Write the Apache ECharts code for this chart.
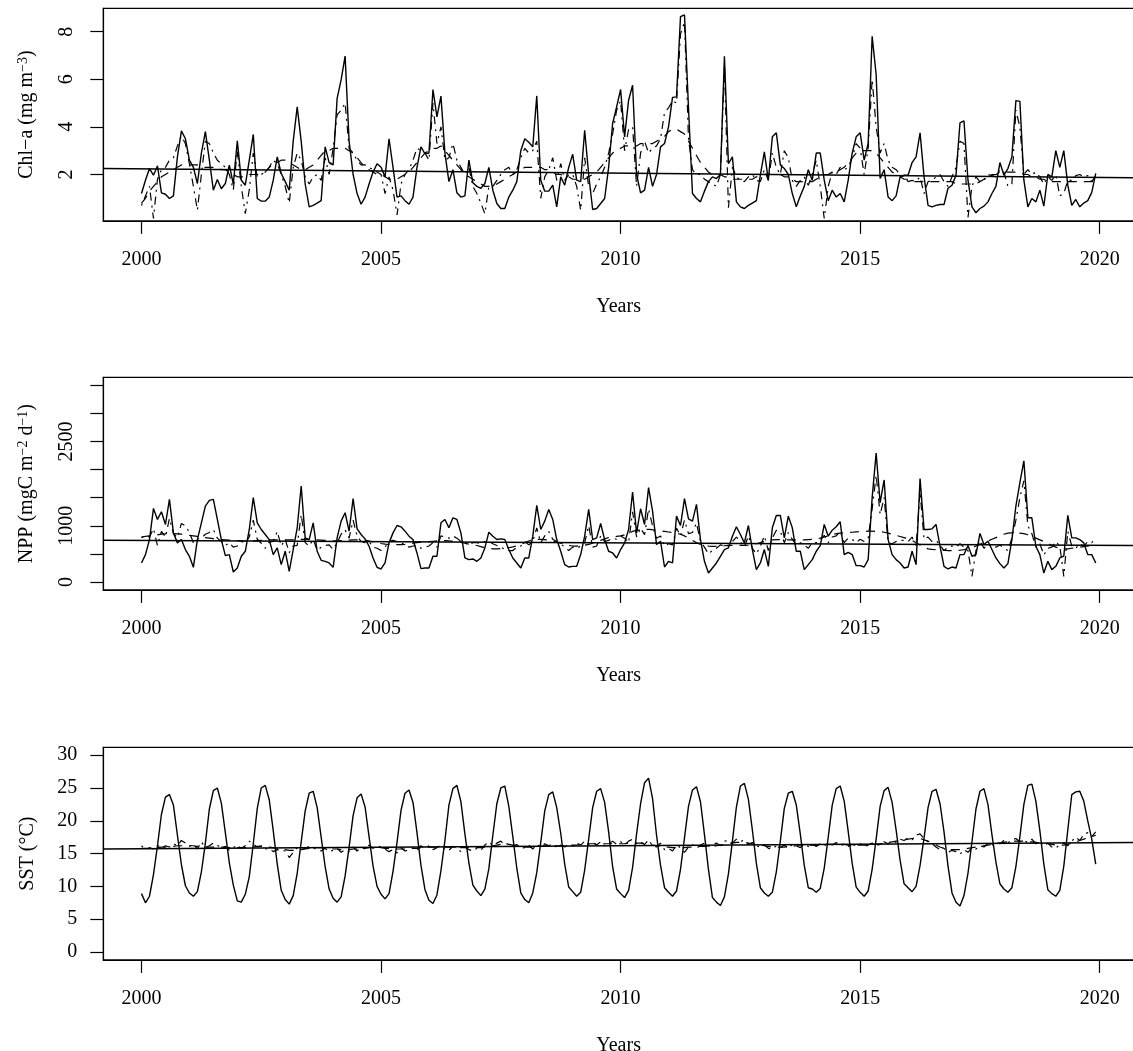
<!DOCTYPE html>
<html>
<head>
<meta charset="utf-8">
<title>Chl-a, NPP, SST 2000-2019</title>
<script src="https://cdn.jsdelivr.net/npm/echarts@6/dist/echarts.min.js"></script>
<style>html,body{margin:0;padding:0;background:#fff;}</style>
</head>
<body>
<div id="chart" style="width:1133px;height:1051px;"></div>
<script type="text/javascript">
// monthly series, Jan 2000 .. Dec 2019
var startYear = 2000;
var yearTicks = [2000, 2005, 2010, 2015, 2020];
var chlTicks = [2, 4, 6, 8];
var nppTicks = [0, 500, 1000, 1500, 2000, 2500, 3000, 3500];
var nppLabels = [0, 1000, 2500];
var sstTicks = [0, 5, 10, 15, 20, 25, 30];

// Chl-a (mg m-3): observed, trend (dashed), deseasonalised (dot-dash)
var chlObs = [
  1.2, 1.76, 2.25, 1.97, 2.36, 1.23, 1.17, 0.99, 1.1, 2.74, 3.83, 3.5,
  2.6, 2.3, 1.62, 2.9, 3.8, 2.6, 1.34, 1.79, 1.4, 1.62, 2.39, 1.6,
  3.41, 1.76, 1.55, 2.6, 3.68, 0.99, 0.88, 0.88, 1.05, 1.76, 2.74, 2.04,
  1.7, 1.34, 3.4, 4.84, 3.4, 1.6, 0.64, 0.7, 0.8, 0.9, 3.16, 2.5,
  2.4, 5.2, 5.97, 6.97, 3.4, 2.0, 1.2, 0.75, 1.05, 1.6, 2.1, 2.45,
  2.3, 1.9, 3.5, 2.3, 1.05, 1.1, 0.9, 0.75, 1.05, 2.3, 3.16, 2.87,
  2.9, 5.57, 4.42, 5.29, 2.9, 1.7, 2.2, 1.23, 1.05, 1.1, 2.6, 1.65,
  1.5, 1.42, 1.62, 2.3, 1.34, 0.78, 0.57, 0.57, 1.05, 1.34, 1.7, 3.0,
  3.5, 3.35, 3.16, 5.3, 1.76, 1.3, 1.3, 1.55, 0.64, 1.9, 1.55, 2.3,
  2.85, 1.76, 1.7, 3.86, 2.0, 0.53, 0.57, 0.78, 0.99, 2.3, 4.14, 4.84,
  5.57, 3.58, 5.12, 5.75, 2.0, 1.23, 1.34, 2.3, 1.5, 2.0, 3.16, 3.3,
  4.0, 5.24, 5.26, 8.63, 8.7, 4.8, 1.2, 0.99, 0.85, 1.3, 1.7, 1.9,
  1.83, 2.0, 6.97, 2.45, 2.74, 0.85, 0.64, 0.57, 0.7, 0.8, 0.9, 1.97,
  2.95, 1.76, 3.58, 3.75, 2.4, 2.25, 2.0, 1.2, 0.64, 1.1, 1.5, 2.2,
  1.76, 2.9, 2.9, 1.76, 0.9, 1.34, 1.05, 1.2, 0.85, 1.76, 2.9, 3.58,
  3.75, 2.6, 3.3, 7.8, 6.2, 1.83, 2.2, 1.05, 0.9, 1.1, 1.9, 1.97,
  1.97, 2.5, 2.74, 3.75, 1.9, 0.7, 0.64, 0.7, 0.74, 0.74, 1.42, 1.55,
  1.97, 4.17, 4.25, 1.76, 0.64, 0.39, 0.57, 0.67, 0.85, 1.2, 1.5, 2.5,
  1.97, 2.25, 2.74, 5.1, 5.07, 1.76, 0.64, 0.99, 0.85, 1.34, 0.67, 2.0,
  1.9, 3.0, 2.3, 3.0, 1.55, 0.7, 0.95, 0.64, 0.8, 0.9, 1.25, 2.05
];
var chlTrend = [
  0.8, 1.0, 1.3, 1.5, 1.7, 1.9, 2.0, 2.1, 2.2, 2.3, 2.4, 2.4,
  2.4, 2.4, 2.4, 2.3, 2.3, 2.3, 2.3, 2.3, 2.2, 2.2, 2.1, 2.0,
  1.9, 1.9, 1.9, 2.0, 2.0, 2.0, 2.0, 2.1, 2.3, 2.4, 2.5, 2.6,
  2.6, 2.5, 2.4, 2.3, 2.2, 2.2, 2.3, 2.4, 2.6, 2.8, 3.0, 3.0,
  3.1, 3.1, 3.1, 3.1, 3.0, 2.9, 2.7, 2.5, 2.3, 2.2, 2.1, 2.0,
  2.0, 1.9, 1.8, 1.8, 1.8, 1.9, 2.0, 2.1, 2.3, 2.5, 2.7, 2.9,
  3.0, 3.1, 3.1, 3.2, 3.0, 2.8, 2.6, 2.4, 2.2, 2.0, 1.9, 1.8,
  1.7, 1.6, 1.5, 1.5, 1.5, 1.6, 1.7, 1.8, 1.9, 2.0, 2.1, 2.2,
  2.3, 2.3, 2.3, 2.3, 2.3, 2.2, 2.2, 2.1, 2.0, 2.0, 1.9, 1.9,
  1.8, 1.8, 1.8, 1.8, 1.9, 2.0, 2.1, 2.3, 2.5, 2.7, 2.9, 3.0,
  3.1, 3.2, 3.2, 3.2, 3.2, 3.3, 3.3, 3.3, 3.3, 3.4, 3.5, 3.6,
  3.8, 3.9, 3.9, 3.8, 3.7, 3.4, 3.1, 2.8, 2.5, 2.3, 2.1, 2.0,
  2.0, 2.0, 1.9, 1.9, 1.8, 1.8, 1.8, 1.8, 1.8, 1.8, 1.9, 1.9,
  2.0, 2.0, 2.0, 2.0, 2.0, 1.9, 1.9, 1.8, 1.7, 1.7, 1.7, 1.7,
  1.7, 1.8, 1.9, 2.0, 2.0, 2.1, 2.1, 2.2, 2.3, 2.5, 2.7, 2.9,
  3.0, 3.0, 3.0, 3.0, 2.9, 2.7, 2.5, 2.3, 2.1, 2.0, 1.9, 1.8,
  1.8, 1.7, 1.7, 1.7, 1.7, 1.7, 1.7, 1.7, 1.7, 1.7, 1.7, 1.7,
  1.6, 1.6, 1.6, 1.6, 1.6, 1.6, 1.7, 1.8, 1.9, 2.0, 2.0, 2.1,
  2.1, 2.1, 2.1, 2.1, 2.1, 2.0, 2.0, 1.9, 1.9, 1.8, 1.8, 1.7,
  1.7, 1.7, 1.7, 1.7, 1.7, 1.7, 1.7, 1.7, 1.7, 1.7, 1.7, 1.7
];
var chlAdj = [
  0.7, 1.1, 1.5, 0.15, 1.8, 2.2, 2.3, 2.6, 2.7, 3.2, 3.6, 3.3,
  2.45, 1.5, 0.5, 2.0, 3.4, 3.3, 2.9, 2.6, 2.45, 2.3, 2.0, 1.35,
  3.0, 1.5, 0.35, 1.35, 2.9, 1.9, 2.0, 2.1, 2.3, 2.6, 2.45, 2.0,
  1.5, 0.8, 2.3, 2.9, 2.6, 1.9, 1.6, 1.9, 2.0, 1.75, 2.7, 2.0,
  3.1, 4.5, 4.7, 5.0, 3.1, 2.9, 2.6, 2.4, 2.4, 2.3, 2.2, 2.1,
  2.0, 1.2, 1.9, 1.35, 0.3, 1.6, 2.0, 2.2, 2.6, 3.1, 3.0, 2.9,
  2.6, 5.0, 3.3, 4.0, 2.6, 2.7, 3.3, 2.6, 2.3, 2.0, 2.3, 1.5,
  1.2, 0.8, 0.35, 1.5, 1.5, 1.75, 2.0, 2.2, 2.3, 2.0, 2.2, 2.7,
  3.1, 2.9, 3.0, 3.4, 1.0, 1.9, 2.2, 2.7, 1.75, 2.45, 1.75, 2.0,
  2.0, 1.5, 0.5, 2.7, 1.5, 1.2, 1.6, 1.9, 2.3, 2.9, 3.7, 4.7,
  5.1, 3.0, 3.9, 4.0, 1.5, 2.9, 3.4, 2.9, 3.1, 3.2, 3.5, 4.6,
  4.8, 5.1, 5.0, 7.9, 8.4, 3.5, 2.2, 2.0, 2.0, 1.8, 1.7, 1.6,
  1.5, 2.0, 6.6, 0.6, 2.3, 1.9, 1.75, 1.7, 1.9, 2.0, 1.75, 1.7,
  2.2, 1.75, 2.9, 2.3, 2.0, 3.0, 2.7, 1.75, 1.5, 1.75, 1.9, 1.55,
  2.0, 2.6, 1.5, 0.15, 1.5, 2.1, 2.0, 2.3, 2.2, 2.3, 2.7, 3.3,
  3.1, 2.0, 3.1, 6.0, 4.0, 2.9, 3.3, 2.6, 2.3, 2.2, 2.0, 1.9,
  1.7, 1.75, 1.7, 1.9, 1.2, 1.7, 1.75, 1.9, 2.0, 1.7, 1.5, 1.9,
  2.3, 3.4, 3.3, 0.2, 1.5, 1.9, 1.7, 1.75, 2.0, 1.95, 1.9, 2.2,
  2.1, 1.5, 1.6, 4.7, 4.0, 2.0, 2.2, 2.0, 2.1, 1.9, 1.6, 1.9,
  1.75, 2.0, 1.1, 1.2, 1.75, 1.75, 1.95, 2.0, 1.9, 1.95, 1.7, 1.95
];

// NPP (mgC m-2 d-1)
var nppObs = [
  339, 488, 755, 1309, 1113, 1249, 1023, 1470, 874, 696, 755, 577,
  458, 261, 755, 1053, 1351, 1452, 1470, 1113, 755, 470, 488, 178,
  249, 458, 547, 934, 1500, 1053, 934, 845, 755, 488, 607, 309,
  547, 190, 577, 964, 1708, 785, 755, 1053, 547, 386, 368, 339,
  261, 785, 1083, 1232, 904, 1482, 946, 845, 767, 636, 428, 261,
  232, 339, 696, 874, 1005, 982, 904, 815, 755, 517, 238, 249,
  249, 458, 458, 1053, 1113, 964, 1142, 1113, 874, 428, 398, 410,
  368, 428, 607, 886, 815, 755, 767, 755, 577, 428, 339, 249,
  428, 428, 815, 1362, 934, 1083, 1291, 1113, 755, 547, 309, 267,
  279, 279, 488, 815, 1291, 755, 785, 1041, 755, 547, 517, 428,
  577, 696, 934, 1601, 874, 1303, 1023, 1678, 1261, 666, 726, 267,
  368, 339, 1172, 1005, 1482, 1124, 1083, 1380, 755, 368, 160, 249,
  339, 458, 577, 607, 815, 982, 845, 696, 1005, 577, 220, 339,
  577, 279, 964, 1184, 1184, 785, 1172, 964, 547, 547, 220, 309,
  398, 547, 648, 1023, 815, 922, 982, 1071, 488, 529, 488, 291,
  291, 267, 398, 1500, 2291, 1410, 1815, 755, 488, 398, 339, 249,
  267, 547, 309, 1839, 934, 934, 946, 1023, 636, 279, 232, 267,
  249, 488, 488, 648, 458, 488, 863, 666, 726, 577, 428, 327,
  249, 327, 755, 1351, 1767, 2154, 1142, 1142, 636, 488, 160, 368,
  220, 279, 428, 460, 1184, 785, 785, 755, 696, 488, 488, 339
];
var nppTrend = [
  800, 810, 820, 830, 840, 850, 855, 860, 860, 855, 850, 840,
  830, 820, 810, 800, 790, 780, 770, 760, 755, 750, 745, 740,
  735, 730, 725, 725, 730, 735, 740, 745, 750, 750, 750, 750,
  750, 750, 750, 755, 760, 760, 760, 755, 750, 745, 740, 735,
  730, 730, 735, 740, 745, 750, 750, 745, 740, 730, 715, 700,
  685, 675, 670, 665, 665, 665, 670, 680, 690, 700, 710, 715,
  720, 725, 730, 735, 735, 730, 725, 715, 705, 690, 675, 665,
  650, 630, 610, 600, 590, 590, 595, 600, 610, 625, 645, 670,
  700, 730, 750, 760, 760, 755, 745, 730, 710, 690, 670, 650,
  640, 640, 645, 655, 670, 690, 710, 740, 770, 790, 800, 810,
  820, 840, 870, 900, 920, 930, 935, 935, 930, 920, 910, 900,
  890, 880, 870, 850, 820, 780, 740, 700, 670, 650, 640, 635,
  635, 640, 645, 650, 650, 650, 650, 650, 655, 665, 680, 700,
  720, 740, 750, 755, 755, 755, 750, 750, 750, 750, 750, 755,
  760, 770, 780, 800, 820, 840, 860, 870, 875, 880, 885, 890,
  895, 900, 905, 905, 900, 895, 885, 870, 850, 830, 810, 790,
  770, 740, 700, 660, 620, 590, 580, 575, 570, 565, 560, 560,
  560, 565, 575, 590, 610, 640, 670, 700, 730, 760, 790, 820,
  850, 870, 875, 875, 870, 860, 840, 810, 780, 750, 720, 690,
  650, 620, 600, 590, 590, 600, 610, 620, 630, 640, 645, 650
];
var nppAdj = [
  790, 820, 800, 950, 650, 900, 800, 1130, 860, 790, 1040, 1000,
  880, 700, 760, 780, 850, 880, 930, 780, 720, 650, 700, 620,
  640, 720, 690, 800, 1100, 760, 690, 600, 710, 720, 900, 640,
  760, 520, 640, 650, 1200, 700, 640, 760, 560, 620, 650, 660,
  580, 700, 850, 930, 780, 1100, 820, 720, 700, 720, 620, 600,
  560, 620, 720, 740, 720, 700, 660, 620, 640, 650, 600, 620,
  640, 700, 620, 820, 800, 780, 820, 780, 720, 700, 660, 700,
  700, 680, 720, 720, 680, 650, 620, 580, 560, 560, 620, 640,
  720, 660, 720, 960, 700, 820, 900, 760, 720, 680, 620, 560,
  620, 600, 640, 700, 1000, 620, 640, 820, 720, 740, 780, 760,
  820, 780, 700, 1250, 800, 960, 840, 1300, 1000, 780, 820, 640,
  680, 660, 960, 820, 1100, 860, 880, 1050, 720, 620, 500, 560,
  600, 660, 640, 640, 720, 800, 720, 620, 820, 600, 500, 640,
  820, 560, 780, 920, 900, 700, 880, 760, 660, 700, 660, 600,
  700, 700, 740, 830, 700, 800, 820, 900, 700, 780, 760, 700,
  760, 720, 780, 1300, 1900, 1200, 1500, 700, 680, 720, 740, 740,
  720, 800, 640, 1600, 760, 800, 720, 740, 660, 560, 620, 640,
  620, 680, 620, 560, 100, 560, 740, 600, 680, 640, 620, 660,
  600, 560, 780, 1100, 1500, 1800, 1000, 860, 620, 680, 480, 600,
  620, 720, 640, 100, 900, 640, 600, 680, 640, 720, 700, 780
];

// SST (degC)
var sstObs = [
  8.9, 7.5, 8.5, 11.8, 16.2, 21.0, 23.6, 24.0, 22.4, 17.8, 13.3, 10.1,
  9.0, 8.5, 9.2, 12.2, 16.6, 21.8, 24.6, 25.0, 22.7, 18.2, 13.6, 10.2,
  7.8, 7.6, 8.8, 11.5, 16.5, 21.9, 25.0, 25.4, 23.2, 18.5, 13.4, 9.4,
  8.0, 7.3, 8.6, 12.0, 16.8, 21.5, 24.2, 24.5, 22.0, 17.5, 13.0, 9.6,
  8.2, 7.6, 8.4, 11.6, 16.0, 20.8, 23.5, 24.1, 22.1, 17.6, 13.1, 10.0,
  8.8, 8.1, 8.9, 12.3, 16.7, 21.6, 24.2, 24.7, 22.8, 18.2, 13.2, 9.5,
  7.9, 7.4, 8.7, 12.4, 17.0, 22.4, 24.9, 25.4, 22.9, 18.0, 13.6, 10.2,
  9.3, 8.6, 9.6, 12.7, 17.8, 22.6, 25.0, 25.3, 22.2, 17.6, 12.8, 9.0,
  8.0, 7.5, 9.0, 12.1, 16.7, 21.5, 24.0, 24.4, 22.0, 18.1, 13.4, 9.9,
  9.2, 8.5, 9.1, 12.5, 17.2, 22.0, 24.5, 24.9, 22.8, 18.3, 13.0, 9.6,
  8.9, 8.3, 9.4, 12.9, 18.0, 22.6, 25.8, 26.5, 23.4, 17.8, 13.2, 9.8,
  9.1, 8.5, 9.3, 12.6, 17.4, 22.2, 24.7, 25.2, 22.9, 17.9, 12.6, 8.3,
  7.6, 7.1, 8.4, 11.9, 16.9, 22.1, 25.3, 25.7, 23.3, 18.6, 13.5, 9.8,
  9.0, 8.5, 9.1, 12.2, 16.9, 21.9, 24.2, 24.5, 22.4, 18.0, 13.2, 9.8,
  9.6, 9.1, 9.7, 12.8, 17.5, 22.4, 24.9, 25.3, 23.0, 18.4, 13.5, 9.9,
  9.1, 8.5, 9.3, 12.6, 17.2, 22.2, 24.6, 25.1, 22.8, 18.6, 14.0, 10.4,
  9.8, 9.2, 10.0, 13.2, 17.4, 22.0, 24.5, 24.8, 22.6, 18.3, 13.1, 9.0,
  7.6, 7.0, 8.6, 12.0, 16.8, 21.8, 24.5, 24.9, 22.5, 17.9, 13.7, 10.4,
  9.6, 9.1, 9.8, 13.0, 17.6, 22.5, 25.4, 25.6, 23.0, 18.5, 13.4, 9.5,
  8.9, 8.5, 9.4, 13.1, 18.6, 24.0, 24.4, 24.5, 23.0, 20.0, 17.2, 13.4
];
var sstTrend = [
  15.8, 15.8, 15.8, 15.9, 15.9, 16.0, 16.0, 16.1, 16.1, 16.2, 16.2, 16.2,
  16.2, 16.2, 16.1, 16.1, 16.0, 16.0, 16.0, 16.0, 16.0, 16.0, 15.9, 15.9,
  15.9, 15.9, 15.9, 16.0, 16.0, 16.1, 16.1, 16.1, 16.0, 15.9, 15.8, 15.7,
  15.6, 15.5, 15.5, 15.5, 15.6, 15.7, 15.8, 15.9, 15.9, 15.9, 15.8, 15.8,
  15.7, 15.7, 15.6, 15.6, 15.6, 15.7, 15.7, 15.8, 15.8, 15.9, 15.9, 15.9,
  15.9, 15.8, 15.8, 15.7, 15.7, 15.7, 15.7, 15.7, 15.8, 15.8, 15.9, 15.9,
  16.0, 16.0, 16.0, 16.0, 16.0, 16.0, 16.0, 15.9, 15.9, 15.9, 15.9, 15.9,
  15.9, 15.9, 16.0, 16.1, 16.2, 16.3, 16.4, 16.4, 16.4, 16.3, 16.2, 16.1,
  16.0, 16.0, 16.0, 16.1, 16.1, 16.2, 16.2, 16.2, 16.2, 16.2, 16.2, 16.2,
  16.3, 16.3, 16.4, 16.4, 16.5, 16.5, 16.5, 16.5, 16.5, 16.5, 16.5, 16.5,
  16.5, 16.5, 16.6, 16.6, 16.6, 16.6, 16.5, 16.4, 16.3, 16.2, 16.1, 16.0,
  16.0, 15.9, 15.9, 15.9, 15.9, 16.0, 16.0, 16.1, 16.1, 16.1, 16.1, 16.1,
  16.2, 16.3, 16.4, 16.5, 16.6, 16.7, 16.7, 16.7, 16.6, 16.5, 16.4, 16.3,
  16.2, 16.1, 16.0, 16.0, 16.0, 16.0, 16.1, 16.1, 16.2, 16.2, 16.2, 16.2,
  16.3, 16.3, 16.3, 16.4, 16.4, 16.4, 16.4, 16.4, 16.4, 16.3, 16.3, 16.3,
  16.3, 16.3, 16.3, 16.4, 16.4, 16.5, 16.6, 16.7, 16.8, 16.9, 17.0, 17.1,
  17.2, 17.3, 17.4, 17.3, 17.1, 16.9, 16.6, 16.3, 16.0, 15.8, 15.7, 15.6,
  15.6, 15.6, 15.7, 15.8, 15.9, 16.0, 16.1, 16.2, 16.3, 16.4, 16.5, 16.6,
  16.7, 16.8, 16.9, 16.9, 16.9, 16.9, 16.8, 16.8, 16.7, 16.6, 16.5, 16.5,
  16.4, 16.3, 16.3, 16.3, 16.4, 16.6, 16.8, 17.0, 17.2, 17.4, 17.6, 17.8
];
var sstAdj = [
  16.2, 15.6, 15.9, 15.7, 16.3, 15.8, 16.2, 16.0, 16.5, 16.2, 17.0, 16.6,
  16.1, 16.4, 15.7, 16.8, 15.9, 16.2, 16.6, 16.3, 15.8, 16.1, 15.5, 15.9,
  16.3, 15.8, 16.2, 16.9, 16.4, 16.0, 16.2, 15.7, 15.8, 15.3, 15.6, 15.5,
  15.4, 14.4, 15.2, 15.9, 15.6, 15.8, 16.1, 15.9, 15.6, 15.4, 15.8, 15.3,
  15.5, 15.8, 15.2, 15.6, 15.3, 16.0, 15.4, 15.9, 15.7, 16.3, 15.8, 16.2,
  16.0, 15.7, 15.3, 15.6, 15.1, 15.9, 15.4, 15.6, 15.9, 15.5, 16.2, 15.8,
  16.2, 15.6, 15.9, 16.3, 15.7, 15.5, 16.1, 15.8, 15.3, 16.0, 15.6, 15.4,
  15.8, 15.5, 16.3, 16.8, 16.2, 16.6, 16.9, 16.3, 16.6, 16.1, 16.4, 15.8,
  15.9, 16.3, 15.7, 16.4, 16.0, 16.5, 16.2, 16.5, 15.9, 16.3, 16.0, 16.4,
  16.2, 16.6, 16.3, 16.9, 16.4, 16.7, 16.3, 16.8, 16.2, 16.5, 16.9, 16.4,
  16.8, 16.3, 16.9, 17.2, 16.5, 16.8, 16.4, 17.1, 16.2, 16.0, 16.6, 15.6,
  15.8, 15.4, 16.3, 15.9, 15.2, 16.0, 16.4, 15.8, 16.3, 16.6, 16.1, 16.4,
  16.6, 16.2, 16.9, 17.0, 16.6, 17.2, 16.8, 17.1, 16.4, 16.7, 16.2, 16.0,
  16.3, 15.8, 15.7, 16.2, 15.9, 16.3, 15.8, 16.4, 16.2, 15.9, 16.5, 16.1,
  16.4, 16.1, 16.5, 16.2, 16.6, 16.3, 16.7, 16.2, 16.4, 16.1, 16.4, 16.2,
  16.5, 16.1, 16.3, 16.6, 16.2, 16.4, 16.8, 16.5, 17.0, 16.7, 17.2, 17.0,
  17.4, 17.1, 17.8, 18.0, 17.3, 16.8, 16.5, 16.0, 15.6, 15.8, 15.2, 15.5,
  15.3, 14.9, 15.6, 15.2, 15.9, 15.7, 16.2, 16.0, 16.5, 16.2, 16.8, 16.5,
  17.0, 16.6, 17.1, 17.3, 16.8, 17.0, 16.7, 17.2, 16.5, 16.8, 16.2, 16.6,
  16.0, 15.8, 16.4, 16.6, 16.2, 16.9, 17.5, 17.0, 17.9, 18.2, 17.6, 18.3
];

// linear fits: [value at 2000, change per year]
var chlFit = [2.2355, -0.0181];
var nppFit = [739.5, -4.42];
var sstFit = [15.74, 0.0465];

var xMin = 1999.203, xMax = 2020.713;
var font = 'Liberation Serif';

function monthly(arr) {
  return arr.map(function (v, i) { return [startYear + i / 12, v]; });
}
function fitLine(fit) {
  return [xMin, xMax].map(function (x) { return [x, fit[0] + fit[1] * (x - startYear)]; });
}
function plain(v) { return String(v); }

var myChart = echarts.init(document.getElementById('chart'));

var tops = [8.3, 377.3, 747.3];
var grids = tops.map(function (t) {
  return {
    left: 103.3, top: t, width: 1030.6, height: 212.6,
    show: true, borderColor: '#000', borderWidth: 1.2,
    backgroundColor: 'transparent', containLabel: false, outerBoundsMode: 'none'
  };
});

var axLine = { show: true, onZero: false, lineStyle: { color: '#000', width: 1.2 } };

var xAxes = [0, 1, 2].map(function (k) {
  return {
    type: 'value', gridIndex: k, min: xMin, max: xMax,
    name: 'Years', nameLocation: 'middle', nameGap: 76,
    nameTextStyle: { fontFamily: font, fontSize: 20, color: '#000' },
    axisLine: axLine,
    axisTick: { show: true, length: 13, customValues: yearTicks, lineStyle: { color: '#000', width: 1.2 } },
    axisLabel: { customValues: yearTicks, formatter: plain, margin: 29, fontFamily: font, fontSize: 20, color: '#000' },
    splitLine: { show: false }
  };
});

var rich = {
  n: { fontFamily: font, fontSize: 20, color: '#000' },
  s: { fontFamily: font, fontSize: 14, color: '#000', verticalAlign: 'top', padding: [0, 0, 7, 0] }
};

function yAxis(k, min, max, ticks, labels, rotate, name) {
  return {
    type: 'value', gridIndex: k, min: min, max: max,
    name: name, nameLocation: 'middle', nameGap: 66, nameMoveOverlap: false,
    nameTextStyle: { fontFamily: font, fontSize: 20, color: '#000', rich: rich },
    axisLine: axLine,
    axisTick: { show: true, length: 13, customValues: ticks, lineStyle: { color: '#000', width: 1.2 } },
    axisLabel: { customValues: labels, formatter: plain, rotate: rotate, margin: rotate ? 27 : 26, fontFamily: font, fontSize: 20, color: '#000' },
    splitLine: { show: false }
  };
}

var yAxes = [
  yAxis(0, 0.05, 8.98, chlTicks, chlTicks, 90, '{n|Chl\u2212a (mg m}{s|\u22123}{n|)}'),
  yAxis(1, -140, 3640, nppTicks, nppLabels, 90, '{n|NPP (mgC m}{s|\u22122}{n| d}{s|\u22121}{n|)}'),
  yAxis(2, -1.2, 31.2, sstTicks, sstTicks, 0, '{n|SST (\u00B0C)}')
];

function panel(k, obs, trend, adj, fit) {
  var base = { type: 'line', xAxisIndex: k, yAxisIndex: k, showSymbol: false, symbol: 'none', silent: true, animation: false };
  return [
    Object.assign({}, base, { data: monthly(obs), lineStyle: { color: '#000', width: 1.4 } }),
    Object.assign({}, base, { data: monthly(trend), lineStyle: { color: '#000', width: 1.2, type: [9, 7] } }),
    Object.assign({}, base, { data: monthly(adj), lineStyle: { color: '#000', width: 1.2, type: [2, 5, 8, 5] } }),
    Object.assign({}, base, { data: fitLine(fit), lineStyle: { color: '#000', width: 1.5 } })
  ];
}

var option = {
  backgroundColor: '#fff',
  animation: false,
  grid: grids,
  xAxis: xAxes,
  yAxis: yAxes,
  series: [].concat(
    panel(0, chlObs, chlTrend, chlAdj, chlFit),
    panel(1, nppObs, nppTrend, nppAdj, nppFit),
    panel(2, sstObs, sstTrend, sstAdj, sstFit)
  )
};

myChart.setOption(option);
</script>
</body>
</html>
